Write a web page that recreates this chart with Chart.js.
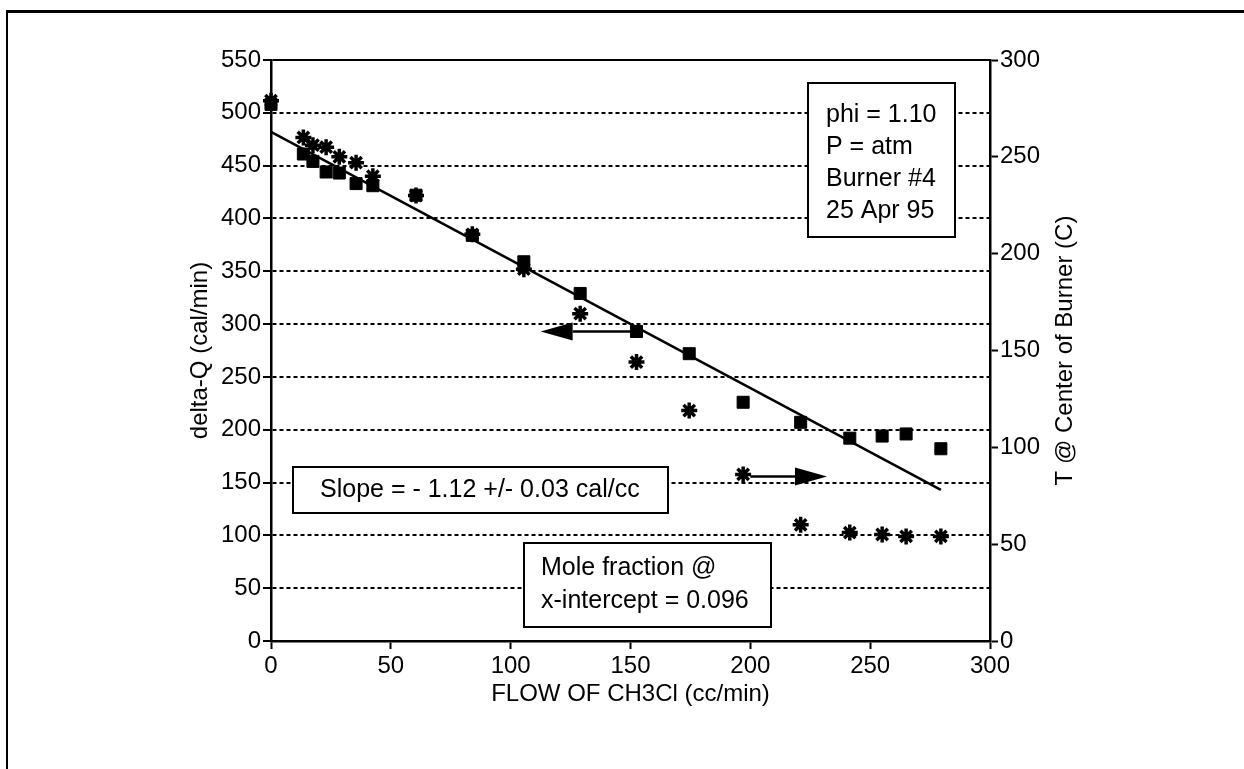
<!DOCTYPE html>
<html>
<head>
<meta charset="utf-8">
<script src="https://cdn.jsdelivr.net/npm/chart.js@4"></script>
<style>
  body { margin: 0; background: #fff; }
  #wrap { position: relative; width: 1244px; height: 769px; overflow: hidden; }
  #frame { position: absolute; left: 6px; top: 10px; width: 1300px; height: 800px;
           border-left: 2px solid #000; border-top: 3px solid #000; }
  canvas { position: absolute; left: 0; top: 0; }
</style>
</head>
<body>
<div id="wrap">
  <div id="frame"></div>
  <canvas id="myChart" width="1244" height="769"></canvas>
</div>
<script>
// flow of CH3Cl (cc/min)
const flow = [0, 13.5, 17.5, 23, 28.5, 35.5, 42.5, 60.5, 84, 105.5, 129, 152.5, 174.5, 197, 221, 241.5, 255, 265, 279.5];
// delta-Q (cal/min), squares, left axis
const deltaQ = [508, 461, 454, 444, 443, 433, 431, 422, 384, 359, 329, 293, 272, 226, 207, 192, 194, 196, 182];
// T @ center of burner (C), asterisks, right axis
const tempC = [279, 260, 256, 255, 250, 247, 240, 230, 210, 192, 169, 144, 119, 86, 60, 56, 55, 54, 54];
// least-squares line as drawn
const fitX = [0, 279.5];
const fitY = [482, 143];
// arrows pointing to the axis each series belongs to
const arrowLeft = { from: [152, 293], to: [112.5, 293], axis: "y" };
const arrowRight = { from: [200, 85], to: [232, 85], axis: "y2" };

const leftTicks = { min: 0, max: 550, step: 50 };
const rightTicks = { min: 0, max: 300, step: 50 };
const xTicks = { min: 0, max: 300, step: 50 };

const FONT = "Liberation Sans, Arial, Helvetica, sans-serif";
Chart.defaults.font.family = FONT;
Chart.defaults.font.size = 24;
Chart.defaults.color = "#000";

const ctx = document.getElementById("myChart").getContext("2d");

function drawArrow(c, chart, a) {
  const { scales } = chart;
  const x1 = scales.x.getPixelForValue(a.from[0]);
  const x2 = scales.x.getPixelForValue(a.to[0]);
  const y = scales[a.axis].getPixelForValue(a.from[1]);
  const dir = x2 > x1 ? 1 : -1;
  const headLen = 32, headHalf = 9;
  c.save();
  c.strokeStyle = "#000";
  c.fillStyle = "#000";
  c.lineWidth = 2.5;
  c.beginPath();
  c.moveTo(x1, y);
  c.lineTo(x2 - dir * headLen, y);
  c.stroke();
  c.beginPath();
  c.moveTo(x2, y);
  c.lineTo(x2 - dir * headLen, y - headHalf);
  c.lineTo(x2 - dir * headLen, y + headHalf);
  c.closePath();
  c.fill();
  c.restore();
}

function textBox(c, x, y, w, h, lines, tx, ty, lh) {
  c.save();
  c.fillStyle = "#fff";
  c.fillRect(x, y, w, h);
  c.strokeStyle = "#000";
  c.lineWidth = 2;
  c.strokeRect(x, y, w, h);
  c.fillStyle = "#000";
  c.font = "25px " + FONT;
  c.textBaseline = "middle";
  c.textAlign = "left";
  lines.forEach((t, i) => c.fillText(t, tx, ty + i * lh));
  c.restore();
}

function vTitle(c, text, x, y) {
  c.save();
  c.fillStyle = "#000";
  c.font = "24px " + FONT;
  c.textAlign = "center";
  c.textBaseline = "middle";
  c.translate(x, y);
  c.rotate(-Math.PI / 2);
  c.fillText(text, 0, 0);
  c.restore();
}

const extras = {
  id: "extras",
  afterDraw(chart) {
    const c = chart.ctx;
    const { chartArea: { left, right, top, bottom } } = chart;

    drawArrow(c, chart, arrowLeft);
    drawArrow(c, chart, arrowRight);

    textBox(c, 808, 83, 147, 154, ["phi = 1.10", "P = atm", "Burner #4", "25 Apr 95"], 826, 115, 32);
    textBox(c, 293, 467, 375, 46, ["Slope = - 1.12 +/- 0.03 cal/cc"], 320, 490, 0);
    textBox(c, 524, 543, 247, 84, ["Mole fraction @", "x-intercept = 0.096"], 541, 568, 33);

    // axis titles
    c.save();
    c.fillStyle = "#000";
    c.font = "24px " + FONT;
    c.textAlign = "center";
    c.textBaseline = "middle";
    c.fillText("FLOW OF CH3Cl (cc/min)", (left + right) / 2, 694);
    c.restore();
    vTitle(c, "delta-Q (cal/min)", 200, (top + bottom) / 2);
    vTitle(c, "T @ Center of Burner (C)", 1065, (top + bottom) / 2);
  },
};

new Chart(ctx, {
  type: "scatter",
  data: {
    datasets: [
      {
        label: "fit",
        data: fitX.map((x, i) => ({ x, y: fitY[i] })),
        showLine: true,
        borderColor: "#000",
        borderWidth: 2.5,
        pointRadius: 0,
        yAxisID: "y",
        clip: false,
      },
      {
        label: "delta-Q",
        data: flow.map((x, i) => ({ x, y: deltaQ[i] })),
        pointStyle: "rect",
        pointRadius: 8.5,
        backgroundColor: "#000",
        borderColor: "#000",
        borderWidth: 1,
        yAxisID: "y",
        clip: false,
      },
      {
        label: "T",
        data: flow.map((x, i) => ({ x, y: tempC[i] })),
        pointStyle: "star",
        pointRadius: 8,
        borderColor: "#000",
        borderWidth: 3.5,
        yAxisID: "y2",
        clip: false,
      },
    ],
  },
  options: {
    responsive: false,
    animation: false,
    layout: { padding: { top: 60, left: 0, right: 0, bottom: 0 } },
    plugins: {
      legend: { display: false },
      tooltip: { enabled: false },
    },
    scales: {
      x: {
        type: "linear",
        min: xTicks.min,
        max: xTicks.max,
        ticks: { stepSize: xTicks.step, padding: 3, maxRotation: 0 },
        grid: { drawOnChartArea: false, tickLength: 8, tickWidth: 2, tickColor: "#000" },
        border: { color: "#000", width: 2.5 },
        afterFit(scale) { scale.height = 128; },
      },
      y: {
        position: "left",
        min: leftTicks.min,
        max: leftTicks.max,
        ticks: { stepSize: leftTicks.step, padding: 2 },
        grid: {
          color: "#000",
          lineWidth: 2,
          tickLength: 8,
          tickWidth: 2,
          tickColor: "#000",
          tickBorderDash: [],
        },
        border: {
          color: "#000",
          width: 2.5,
          dash: (c) => (c.tick && c.tick.value === leftTicks.max ? [] : [4, 3]),
        },
        afterFit(scale) { scale.width = 271; },
      },
      y2: {
        position: "right",
        min: rightTicks.min,
        max: rightTicks.max,
        ticks: { stepSize: rightTicks.step, padding: 2 },
        grid: { drawOnChartArea: false, tickLength: 8, tickWidth: 2, tickColor: "#000" },
        border: { color: "#000", width: 2.5 },
        afterFit(scale) { scale.width = 254; },
      },
    },
  },
  plugins: [extras],
});
</script>
</body>
</html>
